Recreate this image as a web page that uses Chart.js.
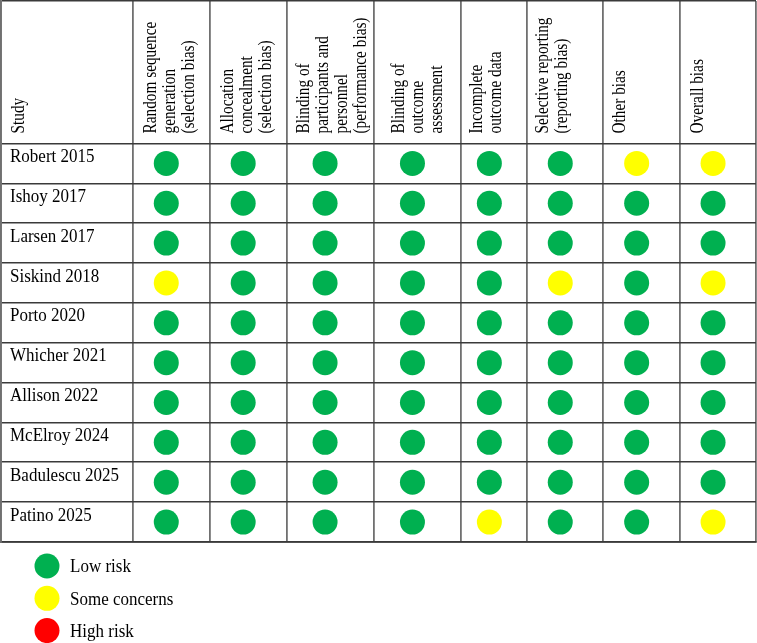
<!DOCTYPE html>
<html>
<head>
<meta charset="utf-8">
<script src="https://cdn.jsdelivr.net/npm/chart.js@4.4.1/dist/chart.umd.min.js"></script>
<style>
  html, body { margin: 0; padding: 0; background: #fff; }
  #wrap { width: 757px; height: 643px; }
</style>
</head>
<body>
<div id="wrap"><canvas id="canvas"></canvas></div>
<script>
// table content
const studies = ["Robert 2015", "Ishoy 2017", "Larsen 2017", "Siskind 2018", "Porto 2020",
  "Whicher 2021", "Allison 2022", "McElroy 2024", "Badulescu 2025", "Patino 2025"];
const domains = [
  ["Random sequence", "generation", "(selection bias)"],
  ["Allocation", "concealment", "(selection bias)"],
  ["Blinding of", "participants and", "personnel", "(performance bias)"],
  ["Blinding of", "outcome", "assessment"],
  ["Incomplete", "outcome data"],
  ["Selective reporting", "(reporting bias)"],
  ["Other bias"],
  ["Overall bias"]
];
// 0 = low risk, 1 = some concerns, 2 = high risk
const judgements = [
  [0, 0, 0, 0, 0, 0, 1, 1],
  [0, 0, 0, 0, 0, 0, 0, 0],
  [0, 0, 0, 0, 0, 0, 0, 0],
  [1, 0, 0, 0, 0, 1, 0, 1],
  [0, 0, 0, 0, 0, 0, 0, 0],
  [0, 0, 0, 0, 0, 0, 0, 0],
  [0, 0, 0, 0, 0, 0, 0, 0],
  [0, 0, 0, 0, 0, 0, 0, 0],
  [0, 0, 0, 0, 0, 0, 0, 0],
  [0, 0, 0, 0, 1, 0, 0, 1]
];
const levels = ["Low risk", "Some concerns", "High risk"];
const levelColors = ["#00B050", "#FFFF00", "#FF0000"];

// layout
const colWidths = [132, 77, 77, 87, 88, 66, 76, 77, 76];
const headerPad = [23, 23, 23, 22, 30, 21, 21, 22, 23];
const headerRows = 3.575;
const vLine = "#707070", hLine = "#3a3a3a";
const font = "17px 'Liberation Serif', 'Times New Roman', serif";
const headFont = "15.3px 'Liberation Serif', 'Times New Roman', serif";
const tall = 1.17; // glyphs in the source are a bit taller than wide

let edges = [0];
colWidths.forEach(w => edges.push(edges[edges.length - 1] + w));
const colMid = i => edges[i + 1] + colWidths[i + 1] / 2 - 5;

const datasets = levels.map((lv, k) => {
  let pts = [];
  judgements.forEach((row, r) => row.forEach((v, c) => {
    if (v === k) pts.push({ x: colMid(c), y: r + 0.5 });
  }));
  return { label: lv, data: pts, backgroundColor: levelColors[k], pointRadius: 12.5,
    pointHoverRadius: 12.5, borderWidth: 0 };
});

function tallText(ctx, t, x, y, rot) {
  ctx.save();
  ctx.translate(x, y);
  if (rot) ctx.rotate(-Math.PI / 2);
  ctx.scale(1, tall);
  ctx.textAlign = "left";
  ctx.textBaseline = "alphabetic";
  ctx.fillText(t, 0, 0);
  ctx.restore();
}

const tableText = {
  id: "tableText",
  afterDraw(chart) {
    const ctx = chart.ctx, xs = chart.scales.x, ys = chart.scales.y;
    ctx.save();
    ctx.fillStyle = "#000";
    const headBottom = ys.getPixelForValue(0);
    // header labels, rotated
    ctx.font = headFont;
    const heads = [["Study"]].concat(domains);
    heads.forEach((lines, i) => {
      const x0 = xs.getPixelForValue(edges[i]) + headerPad[i];
      lines.forEach((t, j) => tallText(ctx, t, x0 + j * 19, headBottom - 10, true));
    });
    // study names
    ctx.font = font;
    studies.forEach((s, r) => {
      tallText(ctx, s, xs.getPixelForValue(0) + 9, ys.getPixelForValue(r) + 18.5, false);
    });
    // legend
    const ly = ys.getPixelForValue(studies.length) + 24;
    levels.forEach((lv, k) => {
      const y = ly + k * 32.3;
      ctx.beginPath();
      ctx.fillStyle = levelColors[k];
      ctx.arc(47, y, 12.5, 0, Math.PI * 2);
      ctx.fill();
      ctx.fillStyle = "#000";
      tallText(ctx, lv, 70, y + 6.3, false);
    });
    ctx.restore();
  }
};

let ctx = document.getElementById("canvas").getContext("2d");
let grafica = new Chart(ctx, {
  type: "scatter",
  data: { datasets: datasets },
  options: {
    responsive: true,
    maintainAspectRatio: false,
    animation: false,
    layout: { autoPadding: false, padding: { top: 1, left: 1, right: 1, bottom: 101 } },
    plugins: { legend: { display: false }, tooltip: { enabled: false } },
    scales: {
      x: {
        type: "linear", min: 0, max: edges[edges.length - 1],
        afterBuildTicks: s => { s.ticks = edges.map(v => ({ value: v })); },
        ticks: { display: false },
        grid: { color: vLine, lineWidth: 1.8, drawTicks: false },
        border: { color: hLine, width: 1.8 }
      },
      y: {
        type: "linear", reverse: true, min: -headerRows, max: studies.length,
        afterBuildTicks: s => {
          s.ticks = [{ value: -headerRows }].concat(studies.map((_, i) => ({ value: i + 1 })), [{ value: 0 }]);
        },
        ticks: { display: false },
        grid: { color: hLine, lineWidth: 1.6, drawTicks: false },
        border: { color: vLine, width: 1.8 }
      }
    }
  },
  plugins: [tableText]
});
</script>
</body>
</html>
